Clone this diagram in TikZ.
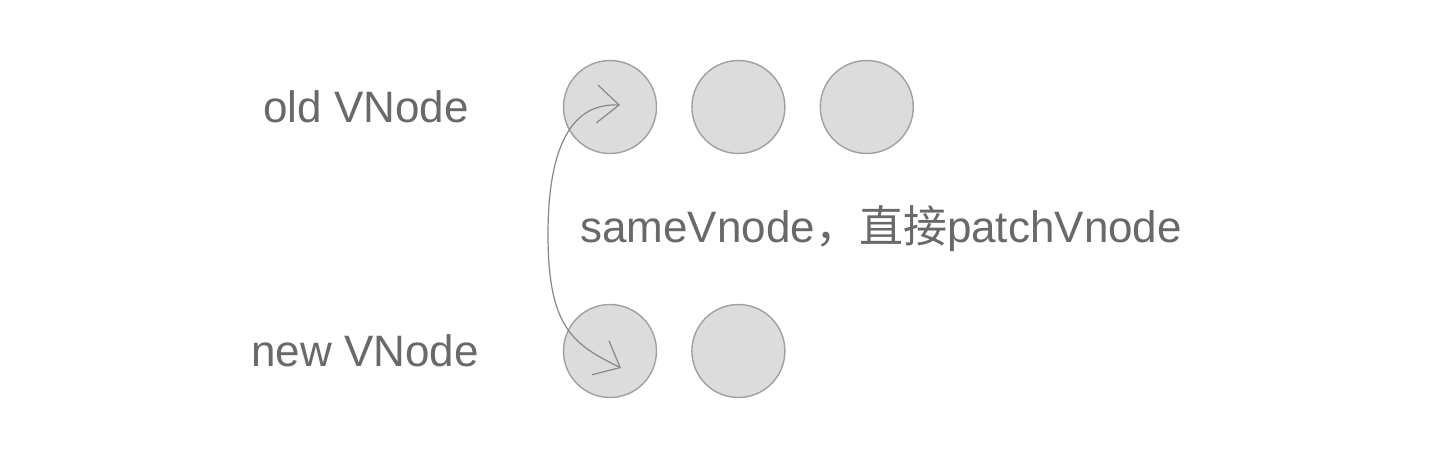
\documentclass[tikz,border=0pt]{standalone}
\usepackage{fontspec}
\setmainfont{Liberation Sans}
\newfontfamily\cjk{Noto Sans CJK SC}
\definecolor{vnodefill}{RGB}{220, 220, 220}
\definecolor{vnodeedge}{RGB}{160, 160, 160}
\definecolor{labelgray}{RGB}{105, 105, 105}
\definecolor{curvegray}{RGB}{135, 135, 135}
\usetikzlibrary{arrows.meta, positioning, calc}

\begin{document}
\begin{tikzpicture}[x=1pt, y=-1pt, node distance=34pt, >={Straight Barb[length=22pt, width=38pt]},
        vnode/.style={circle, draw=vnodeedge, line width=1.4pt, fill=vnodefill, minimum size=93pt, inner sep=0pt},
        rowlabel/.style={inner sep=0pt, text=labelgray, font=\fontsize{44}{50}\selectfont}]
        \useasboundingbox (0,0) rectangle (1440,461);
        \node [vnode] (old1) at (610,107) {};
        \node [vnode, right=of old1] (old2) {};
        \node [vnode, right=of old2] (old3) {};
        \node [vnode] (new1) at (610,351) {};
        \node [vnode, right=of new1] (new2) {};

        \node [rowlabel, left=94pt of old1] (oldlbl) {old VNode};
        \node [rowlabel, left=84pt of new1] (newlbl) {new VNode};
        \node [rowlabel, anchor=west] (msg) at ($(old1)!.5!(new1)+(-30,0)$) {sameVnode{\cjk ，直接}patchVnode};

        \coordinate (newtip) at ($(new1)+(11,17)$);
        \coordinate (oldtip) at ($(old1)+(10,-2)$);
        \draw [<->, curvegray, line width=1.2pt] (newtip) .. controls (575,345) and (548,330) .. (548,235) .. controls (548,140) and (575,103) .. (oldtip);
    \end{tikzpicture}
\end{document}
